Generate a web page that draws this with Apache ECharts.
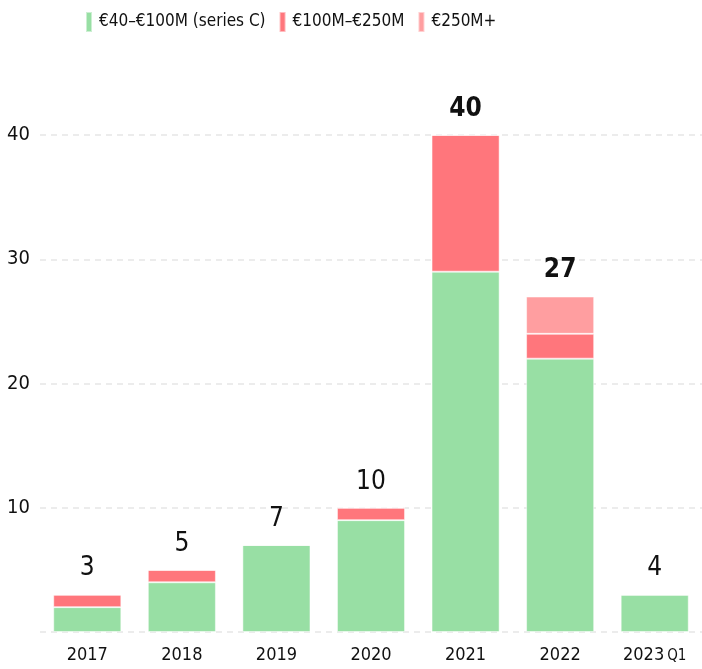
<!DOCTYPE html>
<html>
<head>
<meta charset="utf-8">
<script src="https://cdn.jsdelivr.net/npm/echarts@6/dist/echarts.min.js"></script>
<style>
    html, body { margin: 0; padding: 0; background: #fff; }
    #chart { width: 702px; height: 669px; }
</style>
</head>
<body>
<div id="chart"></div>
<script>
// 数据
const years = ['2017', '2018', '2019', '2020', '2021', '2022', '2023 Q1'];
const seriesC = [2, 4, 7, 9, 29, 22, 3];
const mid = [1, 1, 0, 1, 11, 2, 0];
const large = [0, 0, 0, 0, 0, 3, 0];
const totalLabels = ['3', '5', '7', '10', '40', '27', '4'];
const boldTotals = [false, false, false, false, true, true, false];
const yTicks = [0, 10, 20, 30, 40];

const FONT = "'Liberation Sans Narrow', 'DejaVu Sans Condensed', Roboto, sans-serif";

renderChart();

function renderChart() {
    let chart = echarts.init(document.getElementById('chart'));

    const barStyle = function (color) {
        return {
            color: color,
            borderColor: 'rgba(255,255,255,0.5)',
            borderWidth: 1
        };
    };

    // 顶部总数标签：堆叠一个 0 高度的柱子
    let totalData = totalLabels.map(function (t, i) {
        return {
            value: 0,
            label: { fontWeight: boldTotals[i] ? 'bold' : 'normal' }
        };
    });

    let option = {
        animation: false,
        textStyle: { fontFamily: FONT },
        legend: {
            data: ['€40–€100M (series C)', '€100M–€250M', '€250M+'],
            left: 80,
            top: 6,
            itemWidth: 6,
            itemHeight: 20,
            itemGap: 13,
            icon: 'rect',
            textStyle: { fontSize: 17, color: '#111', fontFamily: FONT, padding: [0, 0, 0, 2] }
        },
        grid: {
            left: 40,
            right: 0,
            top: 135,
            bottom: 37
        },
        xAxis: {
            type: 'category',
            data: years,
            axisLine: { show: false },
            axisTick: { show: false },
            axisLabel: {
                interval: 0,
                fontSize: 18,
                color: '#111',
                fontFamily: FONT,
                margin: 14,
                formatter: function (v) {
                    if (v.indexOf(' ') > 0) {
                        let p = v.split(' ');
                        return p[0] + '{s|' + p[1] + '}';
                    }
                    return v;
                },
                rich: { s: { fontSize: 15, color: '#111', fontFamily: FONT, padding: [3, 0, 0, 3] } }
            }
        },
        yAxis: {
            type: 'value',
            min: yTicks[0],
            max: yTicks[yTicks.length - 1],
            interval: 10,
            axisLine: { show: false },
            axisTick: { show: false },
            axisLabel: {
                fontSize: 20,
                color: '#111',
                fontFamily: FONT,
                margin: 10,
                formatter: function (v) { return v === 0 ? '' : v; }
            },
            splitLine: { lineStyle: { color: '#e6e6e6', type: [6, 5], width: 1.5 } }
        },
        series: [{
            name: '€40–€100M (series C)',
            type: 'bar',
            stack: 'total',
            barWidth: '72%',
            data: seriesC,
            itemStyle: barStyle('#98dfa4')
        }, {
            name: '€100M–€250M',
            type: 'bar',
            stack: 'total',
            data: mid,
            itemStyle: barStyle('#ff767c')
        }, {
            name: '€250M+',
            type: 'bar',
            stack: 'total',
            data: large,
            itemStyle: barStyle('#ff9ea0')
        }, {
            name: 'total',
            type: 'bar',
            stack: 'total',
            data: totalData,
            itemStyle: { color: 'transparent', borderWidth: 0 },
            label: {
                show: true,
                position: 'top',
                distance: 13,
                fontSize: 26,
                color: '#111',
                fontFamily: FONT,
                formatter: function (p) { return totalLabels[p.dataIndex]; }
            }
        }]
    };

    chart.setOption(option);
}
</script>
</body>
</html>
